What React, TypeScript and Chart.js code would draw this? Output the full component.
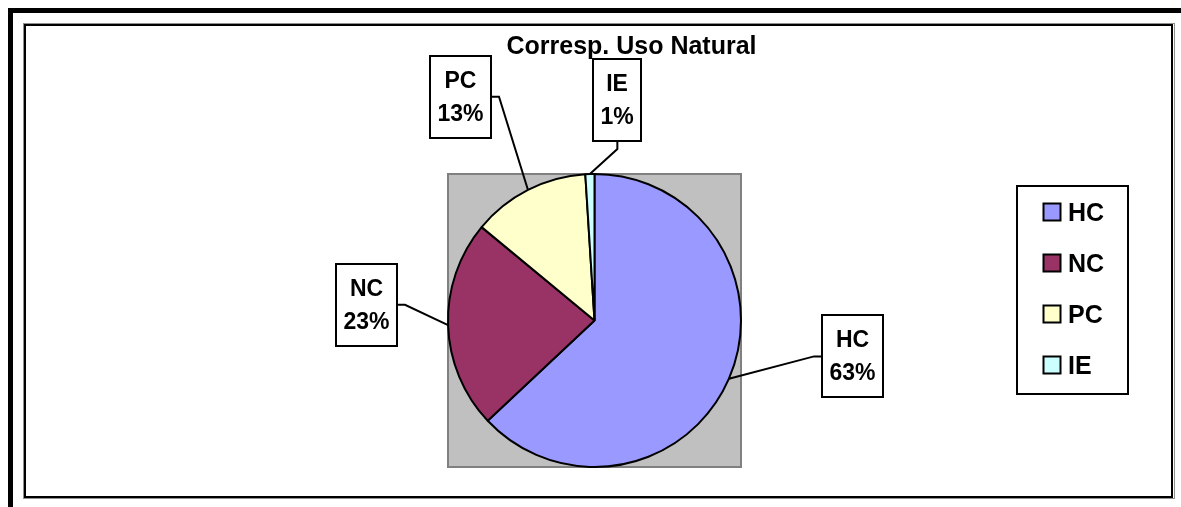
import React, { useEffect, useRef } from "react";
import { Chart, registerables } from "chart.js";

Chart.register(...registerables);

// ---- data ----
const categories = ["HC", "NC", "PC", "IE"];
const shares = [63, 23, 13, 1];
const sliceColors = ["#9999FF", "#993366", "#FFFFCC", "#CCFFFF"];
const chartTitle = "Corresp. Uso Natural";

// ---- layout / style (not data) ----
const FONT = '"Liberation Sans", Arial, Helvetica, sans-serif';
const W = 1181;
const H = 507;
// data-label box centres relative to the pie centre, in units of the radius
const labelOffsets: [number, number][] = [
  [1.759, 0.245],
  [-1.558, -0.107],
  [-0.912, -1.527],
  [0.156, -1.503],
];

const decorPlugin = {
  id: "decor",
  beforeDraw(chart: any) {
    const ctx = chart.ctx as CanvasRenderingContext2D;
    const { width, height } = chart;
    ctx.save();
    ctx.fillStyle = "#ffffff";
    ctx.fillRect(0, 0, width, height);
    // outer thick frame (top and left visible)
    ctx.fillStyle = "#000000";
    ctx.fillRect(8, 8, width - 8, 5);
    ctx.fillRect(8, 8, 5, height - 8);
    // inner chart frame
    ctx.strokeStyle = "#909090";
    ctx.lineWidth = 1;
    ctx.strokeRect(23.5, 23.5, 1151, 475);
    ctx.strokeStyle = "#000000";
    ctx.lineWidth = 2;
    ctx.strokeRect(25, 25, 1147, 472);
    // plot area
    const a = chart.chartArea;
    ctx.fillStyle = "#C0C0C0";
    ctx.fillRect(a.left, a.top, a.right - a.left, a.bottom - a.top);
    ctx.strokeStyle = "#808080";
    ctx.lineWidth = 2;
    ctx.strokeRect(a.left + 1, a.top + 1, a.right - a.left - 2, a.bottom - a.top - 2);
    ctx.restore();
  },
  afterDraw(chart: any) {
    const ctx = chart.ctx as CanvasRenderingContext2D;
    ctx.save();

    // title
    ctx.fillStyle = "#000";
    ctx.font = `bold 25px ${FONT}`;
    ctx.textAlign = "center";
    ctx.textBaseline = "alphabetic";
    ctx.fillText(chartTitle, 631.5, 54);

    // data labels with leader lines
    const meta = chart.getDatasetMeta(0);
    const values: number[] = chart.data.datasets[0].data;
    const total = values.reduce((s, v) => s + v, 0);
    meta.data.forEach((arc: any, i: number) => {
      const p = arc.getProps(["x", "y", "startAngle", "endAngle", "outerRadius"], true);
      const mid = (p.startAngle + p.endAngle) / 2;
      const ex = p.x + Math.cos(mid) * p.outerRadius;
      const ey = p.y + Math.sin(mid) * p.outerRadius;
      const cx = p.x + labelOffsets[i][0] * p.outerRadius;
      const cy = p.y + labelOffsets[i][1] * p.outerRadius;
      const lines = [String(chart.data.labels[i]), Math.round((values[i] / total) * 100) + "%"];
      ctx.font = `bold 23px ${FONT}`;
      const tw = Math.max(...lines.map((l) => ctx.measureText(l).width));
      const bw = Math.round(tw + 15);
      const bh = 82;
      const left = Math.round(cx - bw / 2);
      const top = Math.round(cy - bh / 2);
      const right = left + bw;
      const bottom = top + bh;

      // leader line
      ctx.strokeStyle = "#000";
      ctx.lineWidth = 2;
      ctx.beginPath();
      if (ex >= left - 15 && ex <= right + 15) {
        const sy = ey > bottom ? bottom : top;
        const dir = ey > bottom ? 1 : -1;
        ctx.moveTo(cx, sy);
        ctx.lineTo(cx, sy + dir * 8);
      } else {
        const sx = ex > right ? right : left;
        const dir = ex > right ? 1 : -1;
        ctx.moveTo(sx, cy);
        ctx.lineTo(sx + dir * 8, cy);
      }
      ctx.lineTo(ex, ey);
      ctx.stroke();

      // box
      ctx.fillStyle = "#fff";
      ctx.fillRect(left, top, bw, bh);
      ctx.lineWidth = 2;
      ctx.strokeRect(left, top, bw, bh);

      ctx.fillStyle = "#000";
      ctx.textAlign = "center";
      ctx.textBaseline = "alphabetic";
      ctx.fillText(lines[0], left + bw / 2, cy - 9);
      ctx.fillText(lines[1], left + bw / 2, cy + 24);
    });

    // legend
    ctx.strokeStyle = "#000";
    ctx.lineWidth = 2;
    ctx.fillStyle = "#fff";
    ctx.fillRect(1017, 186, 111, 208);
    ctx.strokeRect(1017, 186, 111, 208);
    ctx.font = `bold 25px ${FONT}`;
    ctx.textAlign = "left";
    ctx.textBaseline = "alphabetic";
    const colors: string[] = chart.data.datasets[0].backgroundColor;
    (chart.data.labels as string[]).forEach((lab, i) => {
      const ry = 212 + i * 51;
      ctx.fillStyle = colors[i];
      ctx.fillRect(1043.5, ry - 8.5, 17, 17);
      ctx.lineWidth = 2;
      ctx.strokeStyle = "#000";
      ctx.strokeRect(1043.5, ry - 8.5, 17, 17);
      ctx.fillStyle = "#000";
      ctx.fillText(lab, 1068, ry + 9);
    });

    ctx.restore();
  },
};

export default function App() {
  const canvasRef = useRef<HTMLCanvasElement | null>(null);

  useEffect(() => {
    const canvas = canvasRef.current;
    if (!canvas) return;
    const chart = new Chart(canvas, {
      type: "pie",
      data: {
        labels: categories,
        datasets: [
          {
            data: shares,
            backgroundColor: sliceColors,
            borderColor: "#000000",
            borderWidth: 2,
          },
        ],
      },
      options: {
        animation: false,
        responsive: false,
        devicePixelRatio: 1,
        events: [],
        layout: { padding: { left: 447, top: 173, right: 439, bottom: 39 } },
        plugins: {
          legend: { display: false },
          tooltip: { enabled: false },
          title: { display: false },
        },
      },
      plugins: [decorPlugin],
    });
    return () => chart.destroy();
  }, []);

  return (
    <div style={{ position: "absolute", left: 0, top: 0, width: W, height: H }}>
      <canvas ref={canvasRef} width={W} height={H} style={{ display: "block", width: W, height: H }} />
    </div>
  );
}
